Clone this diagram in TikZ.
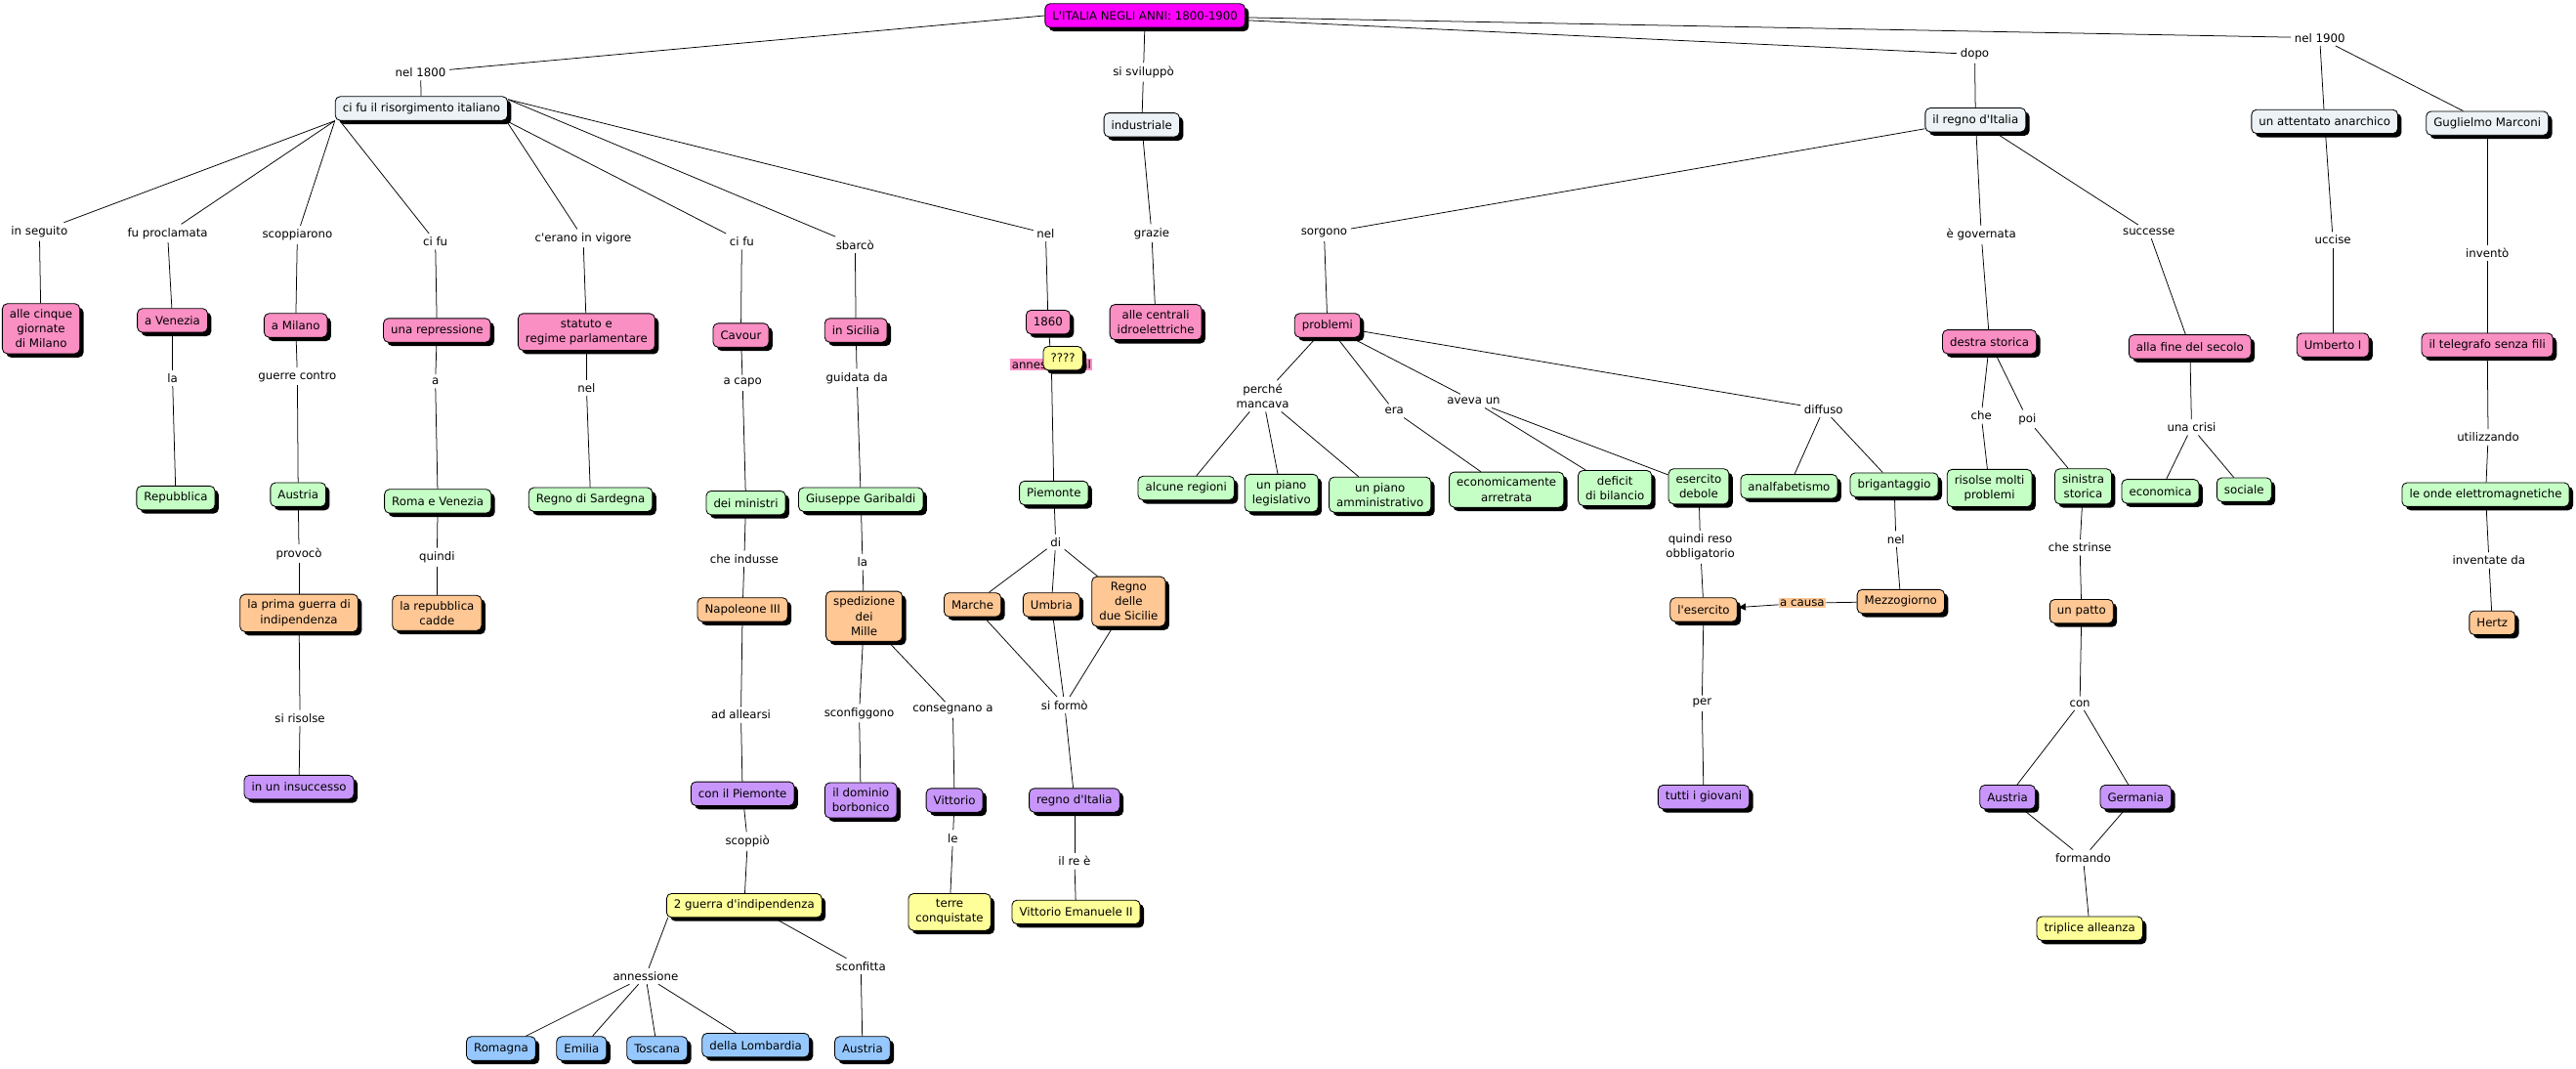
\documentclass[tikz,border=0pt]{standalone}
\usepackage{fontspec}
\setmainfont{DejaVu Sans}
\usetikzlibrary{arrows.meta}
\usetikzlibrary{shadows}
\definecolor{rootmag}{RGB}{255,0,255}
\definecolor{greyfill}{RGB}{236,242,245}
\definecolor{pinkfill}{RGB}{250,143,196}
\definecolor{greenfill}{RGB}{198,255,198}
\definecolor{orangefill}{RGB}{255,199,148}
\definecolor{purplefill}{RGB}{200,150,250}
\definecolor{yellowfill}{RGB}{255,255,153}
\definecolor{bluefill}{RGB}{150,200,255}
\newcommand{\mapfont}{\fontsize{7}{9}\selectfont}
\newcommand{\apo}{\textquotesingle}
\tikzset{concept/.style = {draw, line width=0.5pt, rounded corners=3pt, align=center, inner xsep=4.5pt, inner ysep=3.5pt, minimum height=14.5pt, font=\mapfont, drop shadow={shadow xshift=2.3pt, shadow yshift=-2.3pt, fill=black, opacity=1}}}
\tikzset{rootbox/.style = {concept, fill=rootmag}}
\tikzset{greybox/.style = {concept, fill=greyfill}}
\tikzset{pinkbox/.style = {concept, fill=pinkfill}}
\tikzset{greenbox/.style = {concept, fill=greenfill}}
\tikzset{orangebox/.style = {concept, fill=orangefill}}
\tikzset{purplebox/.style = {concept, fill=purplefill}}
\tikzset{yellowbox/.style = {concept, fill=yellowfill}}
\tikzset{bluebox/.style = {concept, fill=bluefill}}
\tikzset{link/.style = {align=center, inner sep=2pt, font=\mapfont}}
\tikzset{conn/.style = {line width=0.45pt}}

\begin{document}
\begin{tikzpicture}[x=1pt, y=-1pt]
        \useasboundingbox (0,0) rectangle (1568,650.5);
        \node[rootbox] (root) at (697,9.5) {L\apo ITALIA NEGLI ANNI: 1800-1900};
        \node[greybox] (risorg) at (256.5,66) {ci fu il risorgimento italiano};
        \node[greybox] (industriale) at (695,76) {industriale};
        \node[greybox] (regno) at (1202.5,73) {il regno d\apo Italia};
        \node[greybox] (attentato) at (1415,74) {un attentato anarchico};
        \node[greybox] (marconi) at (1514,75) {Guglielmo Marconi};

        \node[pinkbox] (giornate) at (25,200) {alle cinque\\giornate\\di Milano};
        \node[pinkbox] (venezia) at (105,195) {a Venezia};
        \node[pinkbox] (milano) at (180,198) {a Milano};
        \node[pinkbox] (repressione) at (266,201) {una repressione};
        \node[pinkbox] (statuto) at (357,202) {statuto e\\regime parlamentare};
        \node[pinkbox] (cavour) at (451,204) {Cavour};
        \node[pinkbox] (sicilia) at (521,201) {in Sicilia};
        \node[pinkbox] (n1860) at (638,196) {1860};
        \node[pinkbox] (centrali) at (703.5,196) {alle centrali\\idroelettriche};
        \node[pinkbox] (problemi) at (808,198) {problemi};
        \node[pinkbox] (destra) at (1211,208) {destra storica};
        \node[pinkbox] (finesecolo) at (1333,211) {alla fine del secolo};
        \node[pinkbox] (umberto) at (1420,210) {Umberto I};
        \node[pinkbox] (telegrafo) at (1514,210) {il telegrafo senza fili};

        \node[greenbox] (repubblica) at (107,303) {Repubblica};
        \node[greenbox] (austriaA) at (181.5,301) {Austria};
        \node[greenbox] (romavenezia) at (266.5,305) {Roma e Venezia};
        \node[greenbox] (sardegna) at (359.5,304) {Regno di Sardegna};
        \node[greenbox] (ministri) at (454,306) {dei ministri};
        \node[greenbox] (garibaldi) at (524,304) {Giuseppe Garibaldi};
        \node[greenbox] (piemonte) at (641.5,300) {Piemonte};
        \node[greenbox] (regioni) at (722,297) {alcune regioni};
        \node[greenbox] (legislativo) at (780,300) {un piano\\legislativo};
        \node[greenbox] (amministrativo) at (840,301) {un piano\\amministrativo};
        \node[greenbox] (arretrata) at (917,298) {economicamente\\arretrata};
        \node[greenbox] (deficit) at (983,297) {deficit\\di bilancio};
        \node[greenbox] (debole) at (1034,296) {esercito\\debole};
        \node[greenbox] (analfabetismo) at (1089,296) {analfabetismo};
        \node[greenbox] (brigantaggio) at (1153,295) {brigantaggio};
        \node[greenbox] (risolse) at (1211,297) {risolse molti\\problemi};
        \node[greenbox] (sinistra) at (1268,296) {sinistra\\storica};
        \node[greenbox] (economica) at (1315,299) {economica};
        \node[greenbox] (sociale) at (1366,298) {sociale};
        \node[greenbox] (onde) at (1513,301) {le onde elettromagnetiche};

        \node[orangebox] (primaguerra) at (182,373) {la prima guerra di\\indipendenza};
        \node[orangebox] (cadde) at (266,373) {la repubblica\\cadde};
        \node[orangebox] (napoleone) at (452,371) {Napoleone III};
        \node[orangebox] (spedizione) at (526,375) {spedizione\\dei\\Mille};
        \node[orangebox] (marche) at (592,368) {Marche};
        \node[orangebox] (umbria) at (640,368) {Umbria};
        \node[orangebox] (duesicilie) at (687,366) {Regno\\delle\\due Sicilie};
        \node[orangebox] (esercito) at (1037,371) {l\apo esercito};
        \node[orangebox] (mezzogiorno) at (1157,366) {Mezzogiorno};
        \node[orangebox] (patto) at (1267,372) {un patto};
        \node[orangebox] (hertz) at (1517,379) {Hertz};

        \node[purplebox] (insuccesso) at (182,479) {in un insuccesso};
        \node[purplebox] (piemonteB) at (452,483) {con il Piemonte};
        \node[purplebox] (borbonico) at (524,487) {il dominio\\borbonico};
        \node[purplebox] (vittorio) at (581,487) {Vittorio};
        \node[purplebox] (regnoitalia) at (654,487) {regno d\apo Italia};
        \node[purplebox] (giovani) at (1037,485) {tutti i giovani};
        \node[purplebox] (austriaB) at (1222,485) {Austria};
        \node[purplebox] (germania) at (1300,485) {Germania};

        \node[yellowbox] (guerra2) at (453,551) {2 guerra d\apo indipendenza};
        \node[yellowbox] (terre) at (578,555) {terre\\conquistate};
        \node[yellowbox] (emanuele) at (655,555) {Vittorio Emanuele II};
        \node[yellowbox] (triplice) at (1272,565) {triplice alleanza};

        \node[bluebox] (romagna) at (305,638) {Romagna};
        \node[bluebox] (emilia) at (354,638) {Emilia};
        \node[bluebox] (toscana) at (400,638) {Toscana};
        \node[bluebox] (lombardia) at (460,636) {della Lombardia};
        \node[bluebox] (austriaC) at (525,638) {Austria};

        \node[link] (l1800) at (256,44) {nel 1800};
        \node[link] (lsvil) at (696,44) {si sviluppò};
        \node[link] (ldopo) at (1202,33) {dopo};
        \node[link] (l1900) at (1412,23) {nel 1900};
        \node[link] (lseguito) at (24,141) {in seguito};
        \node[link] (lproclamata) at (102,142) {fu proclamata};
        \node[link] (lscopp) at (181,143) {scoppiarono};
        \node[link] (lcifuA) at (265,147) {ci fu};
        \node[link] (lvigore) at (355,145) {c\apo erano in vigore};
        \node[link] (lcifuB) at (451.5,147) {ci fu};
        \node[link] (lsbarco) at (520.5,149) {sbarcò};
        \node[link] (lnel) at (636.5,142) {nel};
        \node[link] (lgrazie) at (701,142) {grazie};
        \node[link] (lsorgono) at (806,142) {sorgono};
        \node[link] (lgovernata) at (1206,143) {è governata};
        \node[link] (lsuccesse) at (1308,141) {successe};
        \node[link] (luccise) at (1420,146) {uccise};
        \node[link] (linvento) at (1514,154) {inventò};
        \node[link] (lla) at (105,230) {la};
        \node[link] (lguerre) at (181,229) {guerre contro};
        \node[link] (la) at (265,232) {a};
        \node[link] (lnelB) at (357,236) {nel};
        \node[link] (lcapo) at (452,233) {a capo};
        \node[link] (lguidata) at (521.6,230) {guidata da};
        \node[link, fill=pinkfill, inner sep=0.8pt] (lannessA) at (640,222) {annessione al};
        \node[link] (lperche) at (768.6,241) {perché\\mancava};
        \node[link] (lera) at (848.6,250) {era};
        \node[link] (laveva) at (897,244) {aveva un};
        \node[link] (ldiffuso) at (1110,249) {diffuso};
        \node[link] (lche) at (1206,253) {che};
        \node[link] (lpoi) at (1234,255) {poi};
        \node[link] (lcrisi) at (1334,260) {una crisi};
        \node[link] (lutil) at (1514.5,266) {utilizzando};
        \node[link] (lprovoco) at (182,337) {provocò};
        \node[link] (lquindi) at (266,339) {quindi};
        \node[link] (lindusse) at (453,340) {che indusse};
        \node[link] (llaB) at (525,342) {la};
        \node[link] (ldi) at (642.6,330) {di};
        \node[link] (lobblig) at (1035,333) {quindi reso\\obbligatorio};
        \node[link] (lnelC) at (1154,328) {nel};
        \node[link] (lstrinse) at (1266,333) {che strinse};
        \node[link] (linventate) at (1515,341) {inventate da};
        \node[link, fill=orangefill, inner sep=0.8pt] (lcausa) at (1097,367) {a causa};
        \node[link] (lallearsi) at (451,435) {ad allearsi};
        \node[link] (lsconfig) at (523,434) {sconfiggono};
        \node[link] (lconsegn) at (580,432) {consegnano a};
        \node[link] (lformo) at (648,429) {si formò};
        \node[link] (lper) at (1036,428) {per};
        \node[link] (lcon) at (1266,428) {con};
        \node[link] (lrisolse) at (182.6,437) {si risolse};
        \node[link] (lscoppio) at (455,512) {scoppiò};
        \node[link] (lle) at (580,510) {le};
        \node[link] (lre) at (654,524) {il re è};
        \node[link] (lformando) at (1268,522) {formando};
        \node[link] (lannessB) at (393,594) {annessione};
        \node[link] (lsconfitta) at (524,588) {sconfitta};

        \draw[conn] (root.west) -- (l1800);
        \foreach \b in {lseguito, lproclamata, lscopp}
            \draw[conn] (risorg.south west) -- (\b);
        \draw[conn] ([xshift=3pt]risorg.south west) -- (lcifuA);
        \foreach \b in {lvigore, lcifuB}
            \draw[conn] ([xshift=-1pt]risorg.south east) -- (\b);
        \foreach \b in {lsbarco, lnel}
            \draw[conn] ([yshift=-2pt]risorg.north east) -- (\b);
        \draw[conn] ([xshift=1pt]guerra2.south west) -- (lannessB);
        \draw[conn] ([xshift=18pt]guerra2.south) -- (lsconfitta);
        \foreach \a/\b in {l1800/risorg, root/lsvil, lsvil/industriale, root/ldopo, ldopo/regno,
            root/l1900, l1900/attentato, l1900/marconi,
            lseguito/giornate, lproclamata/venezia, lscopp/milano, lcifuA/repressione,
            lvigore/statuto, lcifuB/cavour, lsbarco/sicilia, lnel/n1860,
            industriale/lgrazie, lgrazie/centrali,
            venezia/lla, lla/repubblica, milano/lguerre, lguerre/austriaA,
            austriaA/lprovoco, lprovoco/primaguerra, primaguerra/lrisolse, lrisolse/insuccesso,
            repressione/la, la/romavenezia, romavenezia/lquindi, lquindi/cadde,
            statuto/lnelB, lnelB/sardegna,
            cavour/lcapo, lcapo/ministri, ministri/lindusse, lindusse/napoleone,
            napoleone/lallearsi, lallearsi/piemonteB, piemonteB/lscoppio, lscoppio/guerra2,
            lannessB/romagna, lannessB/emilia, lannessB/toscana, lannessB/lombardia,
            lsconfitta/austriaC,
            sicilia/lguidata, lguidata/garibaldi, garibaldi/llaB, llaB/spedizione,
            spedizione/lsconfig, lsconfig/borbonico, spedizione/lconsegn, lconsegn/vittorio,
            vittorio/lle, lle/terre,
            n1860/lannessA, lannessA/piemonte, piemonte/ldi, ldi/marche, ldi/umbria, ldi/duesicilie,
            marche/lformo, umbria/lformo, duesicilie/lformo, lformo/regnoitalia,
            regnoitalia/lre, lre/emanuele,
            regno/lsorgono, lsorgono/problemi,
            problemi/lperche, lperche/regioni, lperche/legislativo, lperche/amministrativo,
            problemi/lera, lera/arretrata, problemi/laveva, laveva/deficit, laveva/debole,
            problemi/ldiffuso, ldiffuso/analfabetismo, ldiffuso/brigantaggio,
            debole/lobblig, lobblig/esercito, brigantaggio/lnelC, lnelC/mezzogiorno,
            mezzogiorno/lcausa, esercito/lper, lper/giovani,
            regno/lgovernata, lgovernata/destra, destra/lche, lche/risolse,
            destra/lpoi, lpoi/sinistra, sinistra/lstrinse, lstrinse/patto,
            patto/lcon, lcon/austriaB, lcon/germania,
            austriaB/lformando, germania/lformando, lformando/triplice,
            regno/lsuccesse, lsuccesse/finesecolo, finesecolo/lcrisi, lcrisi/economica, lcrisi/sociale,
            attentato/luccise, luccise/umberto, marconi/linvento, linvento/telegrafo,
            telegrafo/lutil, lutil/onde, onde/linventate, linventate/hertz}
            \draw[conn] (\a) -- (\b);
        \draw[conn, -{Latex[length=5pt, width=4.5pt]}] (lcausa) -- (esercito);

        \node[yellowbox] (quesiti) at (647,218) {????};
    \end{tikzpicture}
\end{document}
